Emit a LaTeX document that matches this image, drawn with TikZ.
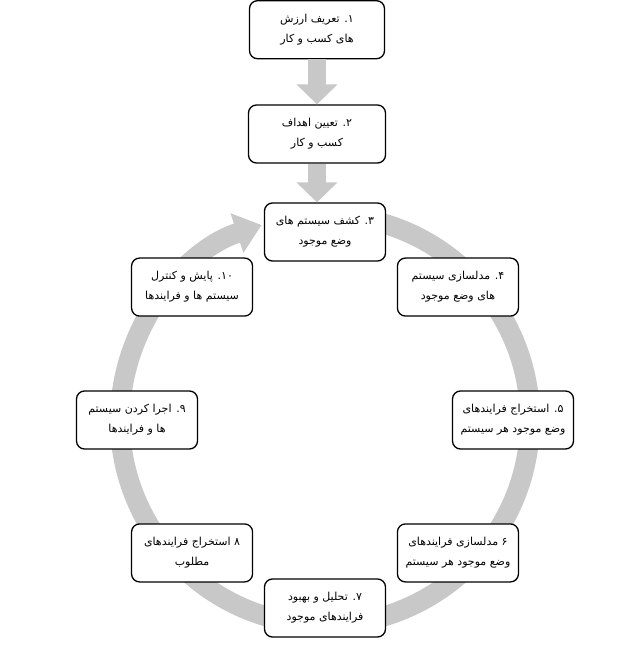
\documentclass[tikz,border=0pt]{standalone}
\usepackage{fontspec}
\newfontfamily\arabicfont[Script=Arabic]{DejaVu Sans}
\TeXXeTstate=1
\usetikzlibrary{arrows.meta, positioning}
\definecolor{ringColor}{RGB}{200, 200, 200}
\tikzstyle{stage} = [rectangle, rounded corners=8pt, minimum width=121pt, minimum height=58pt, text centered, align=center, draw=black, line width=1.3pt, fill=white, font=\arabicfont\fontsize{11}{20}\selectfont]
\tikzstyle{ringarrow} = [draw=ringColor, line width=20pt, -{Triangle[width=40pt,length=26pt]}]
\tikzstyle{flow} = [draw=ringColor, line width=18pt, -{Triangle[width=40pt,length=20pt]}]

\begin{document}
\begin{tikzpicture}[x=1pt, y=1pt]
				\useasboundingbox (-325,-235) rectangle (315,420);
				\coordinate (hub) at (0,0);
				\draw[ringarrow] (hub) ++(80:205) arc[start angle=80, end angle=-252, radius=205pt];
				
				\node (b2) [stage, minimum width=137pt] at (-8,286) {\beginR ۲. تعیین اهداف\endR\\\beginR کسب و کار\endR};
				\node (b1) [stage, minimum width=135pt, above=45pt of b2] {\beginR ۱. تعریف ارزش\endR\\\beginR های کسب و کار\endR};
				\node (s3) [stage] at (90:188) {\beginR ۳. کشف سیستم های\endR\\\beginR وضع موجود\endR};
				\node (s4) [stage] at (45:188) {\beginR ۴. مدلسازی سیستم\endR\\\beginR های وضع موجود\endR};
				\node (s5) [stage] at (0:188) {\beginR ۵. استخراج فرایندهای\endR\\\beginR وضع موجود هر سیستم\endR};
				\node (s6) [stage] at (-45:188) {\beginR ۶ مدلسازی فرایندهای\endR\\\beginR وضع موجود هر سیستم\endR};
				\node (s7) [stage] at (-90:188) {\beginR ۷. تحلیل و بهبود\endR\\\beginR فرایندهای موجود\endR};
				\node (s8) [stage] at (-135:188) {\beginR ۸ استخراج فرایندهای\endR\\\beginR مطلوب\endR};
				\node (s9) [stage] at (180:188) {\beginR ۹. اجرا کردن سیستم\endR\\\beginR ها و فرایندها\endR};
				\node (s10) [stage] at (135:188) {\beginR\beginL ۱۰\endL. پایش و کنترل\endR\\\beginR سیستم ها و فرایندها\endR};
				
				\draw[flow] (b1) -- (b2);
				\draw[flow] (b2.south) -- (b2.south |- s3.north);
			\end{tikzpicture}
\end{document}
